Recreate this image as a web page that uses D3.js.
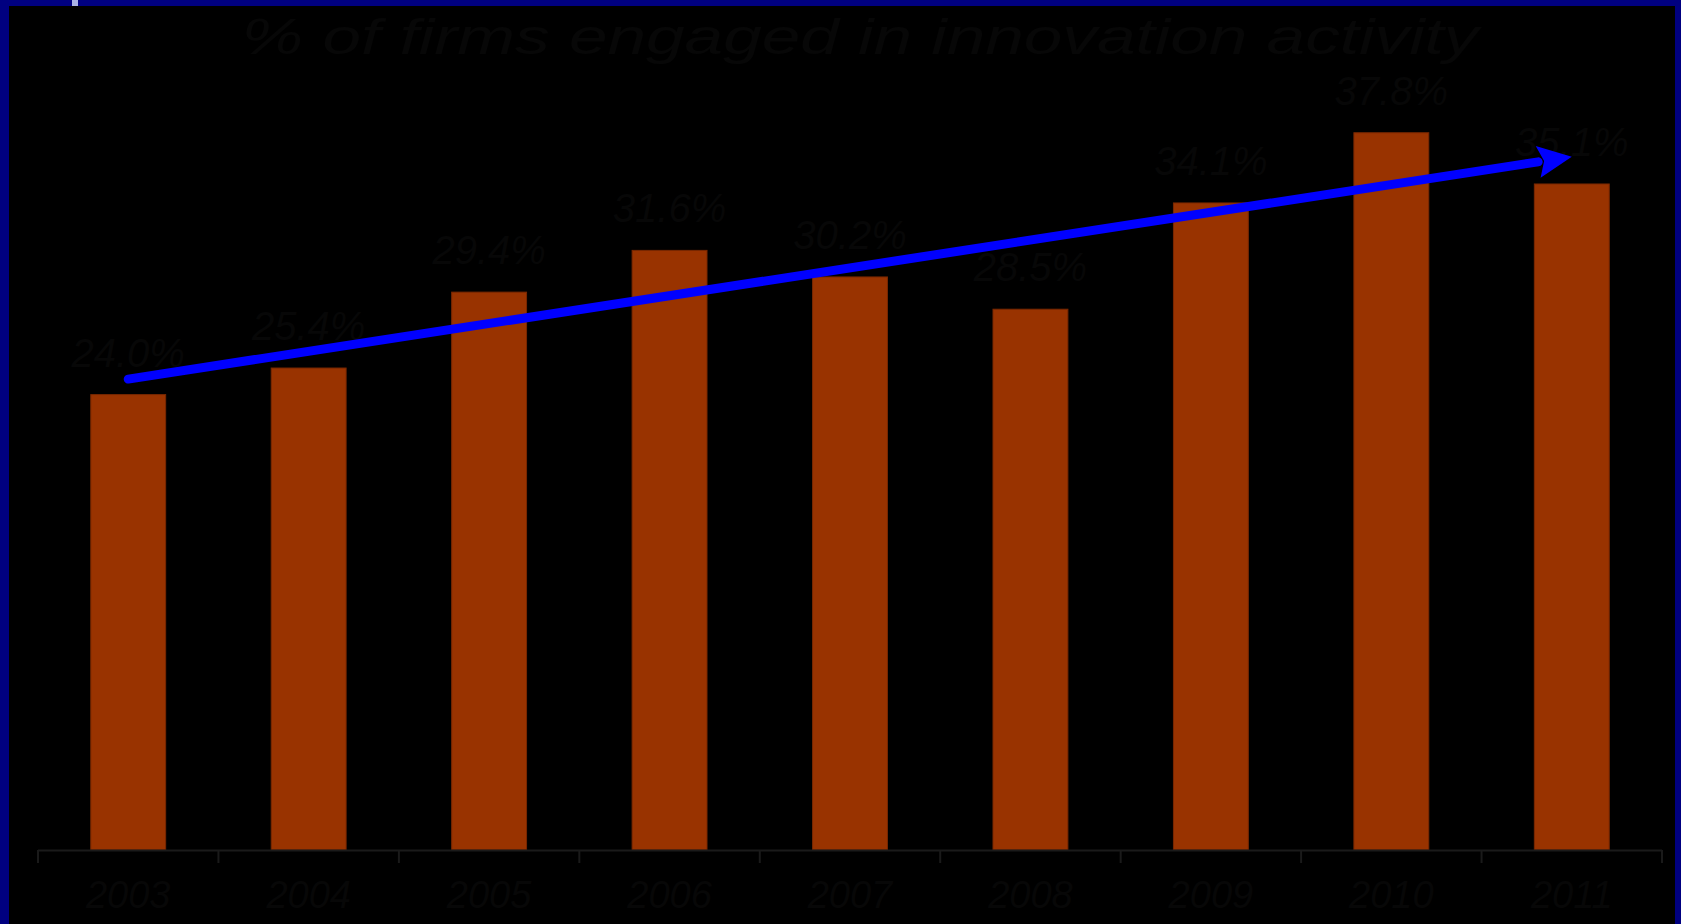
<!DOCTYPE html>
<html>
<head>
<meta charset="utf-8">
<script src="https://cdn.jsdelivr.net/npm/d3@7"></script>
<style>
  html, body { margin: 0; padding: 0; background: #000; }
  svg { display: block; }
</style>
</head>
<body>
<svg id="chart" width="1681" height="924"></svg>
<script>
// Yearly share of firms (%)
const years = ["2003", "2004", "2005", "2006", "2007", "2008", "2009", "2010", "2011"];
const shares = [24.0, 25.4, 29.4, 31.6, 30.2, 28.5, 34.1, 37.8, 35.1];
const valueLabels = ["24.0%", "25.4%", "29.4%", "31.6%", "30.2%", "28.5%", "34.1%", "37.8%", "35.1%"];
const titleText = "% of firms engaged in innovation activity";

const W = 1681, H = 924;
const svg = d3.select("#chart");

// frame
svg.append("rect").attr("x", 0).attr("y", 0).attr("width", W).attr("height", H).attr("fill", "#000080");
svg.append("rect").attr("x", 9).attr("y", 6).attr("width", W - 15).attr("height", H - 6).attr("fill", "#000");
svg.append("rect").attr("x", 72).attr("y", 0).attr("width", 6).attr("height", 6).attr("fill", "#aab2e6");

const left = 38, right = 1662, base = 850;
const x = d3.scaleBand().domain(years).range([left, right]).paddingInner(0.585).paddingOuter(0.2925);
const y = d3.scaleLinear().domain([0, 40]).range([base, 91]);

const textColor = "#070707";
const font = "'Liberation Sans', Arial, sans-serif";

// bars
svg.append("g").selectAll("rect").data(years).join("rect")
  .attr("x", d => x(d))
  .attr("y", (d, i) => y(shares[i]))
  .attr("width", x.bandwidth())
  .attr("height", (d, i) => y(0) - y(shares[i]))
  .attr("fill", "#993300")
  .attr("stroke", "#7a2800")
  .attr("stroke-width", 1);

// x axis with ticks on category boundaries
const axisG = svg.append("g");
axisG.append("line").attr("x1", left).attr("x2", right).attr("y1", base + 0.5).attr("y2", base + 0.5)
  .attr("stroke", "#1a1a1a").attr("stroke-width", 2);
const step = x.step();
const bounds = d3.range(years.length + 1).map(i => left + i * step);
axisG.selectAll("line.tick").data(bounds).join("line").attr("class", "tick")
  .attr("x1", d => d).attr("x2", d => d).attr("y1", base).attr("y2", base + 13)
  .attr("stroke", "#1a1a1a").attr("stroke-width", 2);
axisG.selectAll("text").data(years).join("text")
  .attr("x", d => x(d) + x.bandwidth() / 2)
  .attr("y", 908)
  .attr("text-anchor", "middle")
  .attr("font-family", font).attr("font-style", "italic")
  .attr("font-size", 38)
  .attr("fill", textColor)
  .text(d => d);

// value labels
svg.append("g").selectAll("text").data(years).join("text")
  .attr("x", d => x(d) + x.bandwidth() / 2)
  .attr("y", (d, i) => y(shares[i]) - 28)
  .attr("text-anchor", "middle")
  .attr("font-family", font).attr("font-style", "italic")
  .attr("font-size", 40)
  .attr("fill", textColor)
  .text((d, i) => valueLabels[i]);

// title
svg.append("text")
  .attr("x", 860).attr("y", 54)
  .attr("text-anchor", "middle")
  .attr("font-family", font).attr("font-style", "italic")
  .attr("font-size", 50)
  .attr("textLength", 1237).attr("lengthAdjust", "spacingAndGlyphs")
  .attr("fill", textColor)
  .text(titleText);

// least-squares trend arrow across bar centres
const xs = d3.range(shares.length);
const mx = d3.mean(xs), my = d3.mean(shares);
const slope = d3.sum(xs, i => (i - mx) * (shares[i] - my)) / d3.sum(xs, i => (i - mx) ** 2);
const fit = i => my + slope * (i - mx);
const cx = i => x(years[i]) + x.bandwidth() / 2;
const x0 = cx(0), y0 = y(fit(0));
const x1 = cx(years.length - 1), y1 = y(fit(years.length - 1));
const ang = Math.atan2(y1 - y0, x1 - x0);
const headLen = 34, headHalf = 16;
const bx = x1 - headLen * Math.cos(ang), by = y1 - headLen * Math.sin(ang);
svg.append("line")
  .attr("x1", x0).attr("y1", y0).attr("x2", bx).attr("y2", by)
  .attr("stroke", "#0000ff").attr("stroke-width", 9).attr("stroke-linecap", "round");
svg.append("path")
  .attr("d", d3.line()([
    [x1, y1],
    [bx + headHalf * Math.sin(ang), by - headHalf * Math.cos(ang)],
    [bx + 6 * Math.cos(ang), by + 6 * Math.sin(ang)],
    [bx - headHalf * Math.sin(ang), by + headHalf * Math.cos(ang)]
  ]) + "Z")
  .attr("fill", "#0000ff");
</script>
</body>
</html>
